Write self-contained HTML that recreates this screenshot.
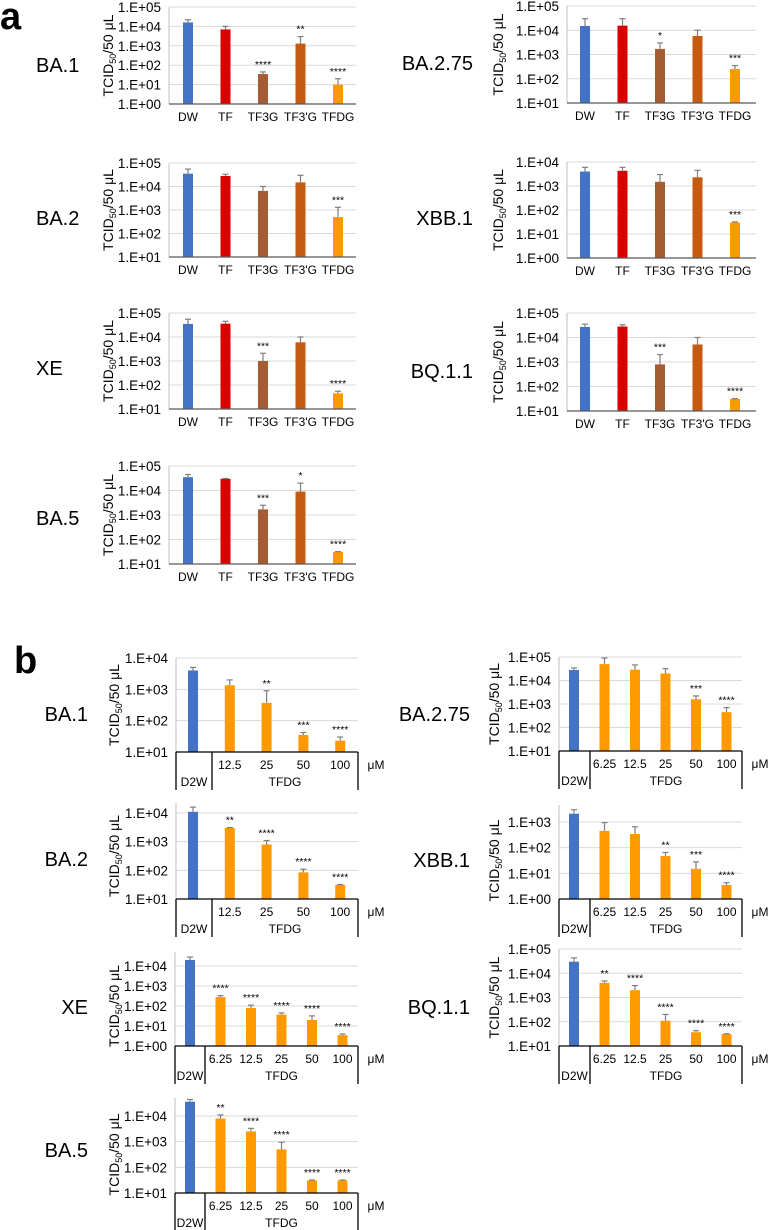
<!DOCTYPE html>
<html><head><meta charset="utf-8"><style>
html,body{margin:0;padding:0;background:#fff;}
svg{display:block;font-family:"Liberation Sans",Arial,sans-serif;}
</style></head><body>
<svg id="fig" width="773" height="1230" viewBox="0 0 773 1230" xmlns="http://www.w3.org/2000/svg">
<text x="0" y="29" font-size="38" font-weight="bold">a</text>
<text x="14" y="673" font-size="38" font-weight="bold">b</text>
</svg>
<script>
// ---- Panel a data ----
const catsA = ["DW","TF","TF3G","TF3'G","TFDG"];
const colorsA = ["#4472C4","#D90000","#A65C32","#C55A11","#FF9900"];
const a_BA1_vals = [16000,7000,35,1300,10];
const a_BA1_errs = [22000,10000,45,3000,20];
const a_BA1_stars = ["","","****","**","****"];
const a_BA275_vals = [15000,15500,1700,5800,250];
const a_BA275_errs = [30000,30000,3000,10000,350];
const a_BA275_stars = ["","","*","","***"];
const a_BA2_vals = [35000,28000,6500,15000,500];
const a_BA2_errs = [55000,33000,10000,30000,1300];
const a_BA2_stars = ["","","","","***"];
const a_XBB1_vals = [4000,4300,1500,2300,30];
const a_XBB1_errs = [6000,6000,3000,4500,32];
const a_XBB1_stars = ["","","","","***"];
const a_XE_vals = [35000,36000,1000,6000,45];
const a_XE_errs = [55000,45000,2100,10000,55];
const a_XE_stars = ["","","***","","****"];
const a_BQ11_vals = [27000,28000,800,5200,31];
const a_BQ11_errs = [35000,33000,2000,10000,32];
const a_BQ11_stars = ["","","***","",  "****"];
const a_BA5_vals = [35000,30000,1700,9000,31];
const a_BA5_errs = [45000,31000,2500,20000,32];
const a_BA5_stars = ["","","***","*","****"];
// ---- Panel b data ----
const b_BA1_doses = ["12.5","25","50","100"];
const b_BA1_vals = [4000,1350,370,35,23];
const b_BA1_errs = [5000,2000,900,42,30];
const b_BA1_stars = ["","","**","***","****"];
const b_BA2_doses = ["12.5","25","50","100"];
const b_BA2_vals = [11000,3000,800,85,31];
const b_BA2_errs = [16000,3100,1100,110,32];
const b_BA2_stars = ["","**","****","****","****"];
const b_doses6 = ["6.25","12.5","25","50","100"];
const b_BA275_vals = [28000,50000,29000,20000,1600,450];
const b_BA275_errs = [34000,90000,46000,32000,2200,700];
const b_BA275_stars = ["","","","","***","****"];
const b_XBB1_vals = [2100,450,340,47,15,3.5];
const b_XBB1_errs = [3000,950,650,65,28,4.3];
const b_XBB1_stars = ["","","","**","***","****"];
const b_XE_vals = [20000,280,80,37,20,3.5];
const b_XE_errs = [28000,330,110,45,32,4];
const b_XE_stars = ["","****","****","****","****","****"];
const b_BQ11_vals = [30000,4000,2000,110,37,31];
const b_BQ11_errs = [43000,4800,3100,200,43,32];
const b_BQ11_stars = ["","**","****","****","****","****"];
const b_BA5_vals = [36000,8000,2500,500,31,31];
const b_BA5_errs = [44000,11000,3300,950,32,32];
const b_BA5_stars = ["","**","****","****","****","****"];

const svg = document.getElementById('fig');
const NS = "http://www.w3.org/2000/svg";
function mk(tag, attrs, parent){
  const e = document.createElementNS(NS, tag);
  for (const k in attrs) e.setAttribute(k, attrs[k]);
  (parent||svg).appendChild(e);
  return e;
}
function txt(x,y,s,size,anchor,parent){
  const t = mk('text',{x:x,y:y,'font-size':size,'text-anchor':anchor||'middle',fill:'#000'},parent);
  t.textContent = s;
  return t;
}

function chart(L, vals, errs, stars, colors, name, variant, table){
  const g = mk('g',{});
  
  
  const yScale = v => L.yBot - (Math.log10(v) - L.lo) * (L.yBot - L.yTop) / (L.hi - L.lo);
  const vl = txt(L.vx, L.vy, variant, 20, L.vanchor, g);
  
  
  for (let d = L.lo; d <= L.hi; d++){
    const y = yScale(Math.pow(10,d));
    if (d > L.lo){
      const gl = mk('line',{x1:L.x0,x2:L.x1,y1:y,y2:y,stroke:'#d9d9d9','stroke-width':1},g);
      
      
    }
    const tl = txt(L.x0-8, y+5, '1.E+' + String(d).padStart(2,'0'), 13.5, 'end', g);
    
    
  }
  const ya = mk('line',{x1:L.x0,x2:L.x0,y1:L.axTop,y2:L.yBot,stroke:'#bfbfbf','stroke-width':1},g);
  
  
  const tg = mk('text',{transform:'translate('+L.tx+','+((L.yTop+L.yBot)/2)+') rotate(-90)','font-size':14,'text-anchor':'middle'},g);
  
  
  tg.innerHTML = 'TCID<tspan font-size="9" dy="3">50</tspan><tspan dy="-3">/50 μL</tspan>';
  const bw = 10;
  vals.forEach((v,i)=>{
    const cx = L.x0 + L.off + i*L.step;
    const yv = yScale(v);
    const r = mk('rect',{x:cx-bw/2,y:yv,width:bw,height:L.yBot-yv,fill:colors[i]},g);
    
    
    const ye = yScale(errs[i]);
    const e1 = mk('line',{x1:cx,x2:cx,y1:ye,y2:yv,stroke:'#7f7f7f','stroke-width':1.2},g);
    
    
    mk('line',{x1:cx-3,x2:cx+3,y1:ye,y2:ye,stroke:'#7f7f7f','stroke-width':1.2},g);
    if (stars[i]){
      const s = txt(cx, ye-4, stars[i], 10.5, 'middle', g);
      
      
    }
    if (!table){
      const c = txt(cx, L.yBot+17, L.cats[i], 12, 'middle', g);
      
      
    }
  });
  const xa = mk('line',{x1:L.x0,x2:L.x1,y1:L.yBot,y2:L.yBot,stroke:table?'#000':'#595959','stroke-width':1.3},g);
  
  
  if (table){
    [L.x0, L.div, L.x1].forEach(x=>mk('line',{x1:x,x2:x,y1:L.yBot,y2:L.yBot+38,stroke:'#000','stroke-width':1.3},g));
    table.forEach((d,i)=>{
      const cx = L.x0 + L.off + (i+1)*L.step;
      const c = txt(cx, L.yBot+17, d, 12, 'middle', g);
      
      
    });
    const d2 = txt((L.x0+L.div)/2, L.yBot+34, 'D2W', 12, 'middle', g);
    
    
    const tf = txt((L.div+L.x1)/2, L.yBot+34, 'TFDG', 12, 'middle', g);
    
    
    const um = txt(L.x1+18, L.yBot+17, 'μM', 12, 'middle', g);
    
    
  }
}

const aL = (yTop,yBot,lo,hi,vy)=>({x0:169,x1:356,off:19,step:37.5,yTop,yBot,lo,hi,axTop:yTop,tx:113,vx:36,vy,vanchor:'start',cats:catsA});
const aR = (yTop,yBot,lo,hi,vy)=>({x0:567,x1:756,off:18,step:37.5,yTop,yBot,lo,hi,axTop:yTop,tx:503,vx:473,vy,vanchor:'end',cats:catsA});
chart(aL(7,104,0,5,72), a_BA1_vals,a_BA1_errs,a_BA1_stars,colorsA,'a-ba1','BA.1');
chart(aL(163,257,1,5,225), a_BA2_vals,a_BA2_errs,a_BA2_stars,colorsA,'a-ba2','BA.2');
chart(aL(313,409,1,5,375), a_XE_vals,a_XE_errs,a_XE_stars,colorsA,'a-xe','XE');
chart(aL(466,564,1,5,525), a_BA5_vals,a_BA5_errs,a_BA5_stars,colorsA,'a-ba5','BA.5');
chart(aR(6,103,1,5,70), a_BA275_vals,a_BA275_errs,a_BA275_stars,colorsA,'a-ba275','BA.2.75');
chart(aR(162,258,0,4,225), a_XBB1_vals,a_XBB1_errs,a_XBB1_stars,colorsA,'a-xbb1','XBB.1');
chart(aR(313,411,1,5,378), a_BQ11_vals,a_BQ11_errs,a_BQ11_stars,colorsA,'a-bq11','BQ.1.1');

const c5 = ["#4472C4","#FF9900","#FF9900","#FF9900","#FF9900"];
const c6 = ["#4472C4","#FF9900","#FF9900","#FF9900","#FF9900","#FF9900"];
chart({x0:176,x1:358,div:212,off:17,step:36.8,yTop:658,yBot:752,lo:1,hi:4,axTop:658,tx:119,vx:88,vy:721,vanchor:'end'},
  b_BA1_vals,b_BA1_errs,b_BA1_stars,c5,'b-ba1','BA.1',b_BA1_doses);
chart({x0:176,x1:358,div:212,off:17,step:36.8,yTop:813,yBot:899,lo:1,hi:4,axTop:803,tx:119,vx:88,vy:866,vanchor:'end'},
  b_BA2_vals,b_BA2_errs,b_BA2_stars,c5,'b-ba2','BA.2',b_BA2_doses);
chart({x0:175,x1:358,div:205,off:15,step:30.5,yTop:966,yBot:1046,lo:0,hi:4,axTop:952,tx:119,vx:88,vy:1014,vanchor:'end'},
  b_XE_vals,b_XE_errs,b_XE_stars,c6,'b-xe','XE',b_doses6);
chart({x0:175,x1:358,div:205,off:15,step:30.5,yTop:1116,yBot:1193,lo:1,hi:4,axTop:1098,tx:119,vx:88,vy:1157,vanchor:'end'},
  b_BA5_vals,b_BA5_errs,b_BA5_stars,c6,'b-ba5','BA.5',b_doses6);
chart({x0:559,x1:742,div:590,off:15,step:30.5,yTop:657,yBot:751,lo:1,hi:5,axTop:657,tx:499,vx:470,vy:721,vanchor:'end'},
  b_BA275_vals,b_BA275_errs,b_BA275_stars,c6,'b-ba275','BA.2.75',b_doses6);
chart({x0:559,x1:742,div:590,off:15,step:30.5,yTop:822,yBot:899,lo:0,hi:3,axTop:805,tx:499,vx:470,vy:867,vanchor:'end'},
  b_XBB1_vals,b_XBB1_errs,b_XBB1_stars,c6,'b-xbb1','XBB.1',b_doses6);
chart({x0:559,x1:742,div:590,off:15,step:30.5,yTop:949,yBot:1046,lo:1,hi:5,axTop:949,tx:499,vx:470,vy:1014,vanchor:'end'},
  b_BQ11_vals,b_BQ11_errs,b_BQ11_stars,c6,'b-bq11','BQ.1.1',b_doses6);
</script>
</body></html>
